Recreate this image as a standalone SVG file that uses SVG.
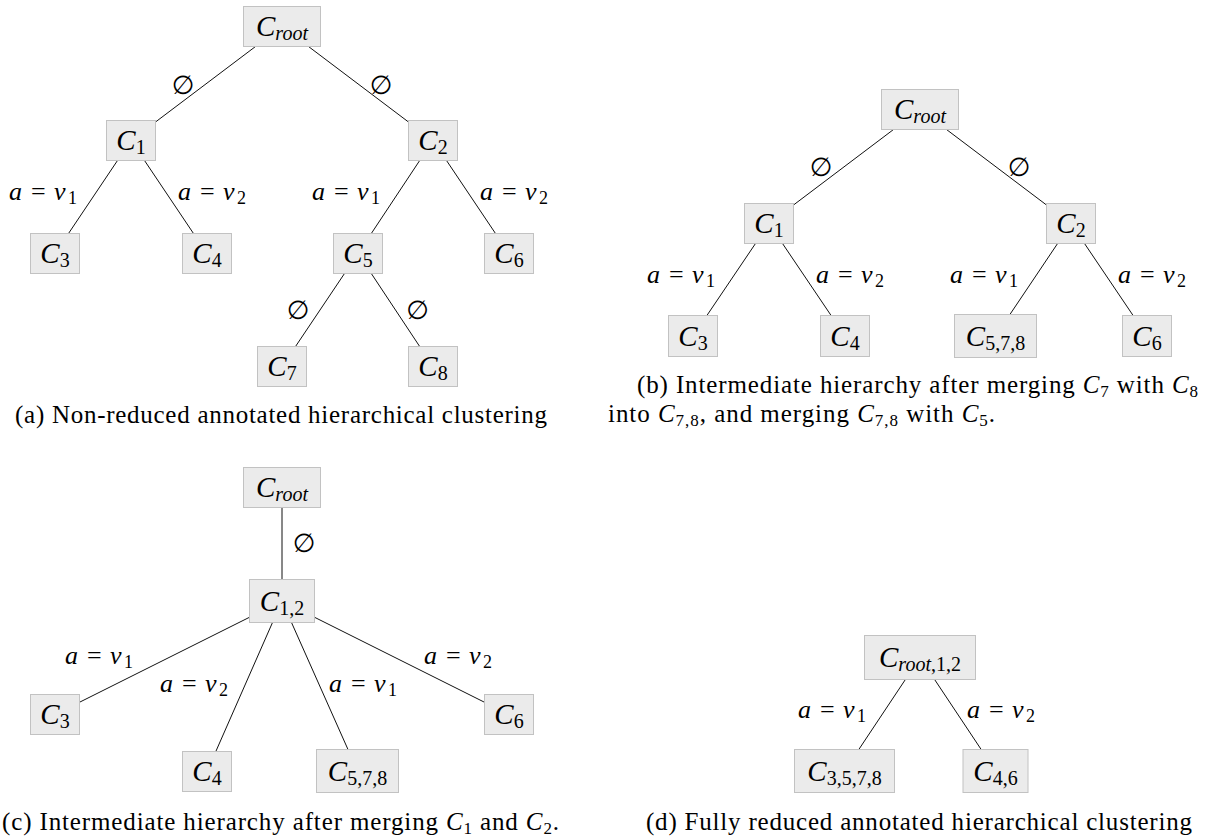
<svg xmlns="http://www.w3.org/2000/svg" width="1215" height="837" viewBox="0 0 1215 837">
<style>
.m{font-family:"Liberation Serif",serif;font-size:26px;fill:#000}
.i{font-style:italic}
.s{font-size:18px}
.cs{font-size:17px}
.e{font-family:"DejaVu Sans",sans-serif;font-size:26px;text-anchor:middle;fill:#000}
.nd rect{fill:#ebebeb;stroke:#c2c2c2;stroke-width:1}
.nd text{text-anchor:middle;font-size:29px}
.nd .s{font-size:20px}
.edges line{stroke:#111;stroke-width:1}
.cap{font-family:"Liberation Serif",serif;font-size:25px;fill:#000}
</style>
<rect width="1215" height="837" fill="#fff"/>

<!-- connectors -->
<g id="connectors" class="edges">
<line x1="255.5" y1="46.5" x2="155.5" y2="122"/>
<line x1="308.5" y1="46.5" x2="408.5" y2="122"/>
<line x1="117.5" y1="160.5" x2="68.5" y2="233.5"/>
<line x1="144.5" y1="160.5" x2="193.5" y2="233.5"/>
<line x1="419.7" y1="160.5" x2="371.3" y2="233.5"/>
<line x1="446.5" y1="160.5" x2="495.5" y2="233.5"/>
<line x1="344.5" y1="273.5" x2="295.5" y2="346.5"/>
<line x1="371.3" y1="273.5" x2="419.7" y2="346.5"/>

<line x1="893.5" y1="129.5" x2="793.5" y2="205"/>
<line x1="946.5" y1="129.5" x2="1046.5" y2="205"/>
<line x1="755.5" y1="243.5" x2="706.9" y2="315.5"/>
<line x1="782.5" y1="243.5" x2="831.1" y2="315.5"/>
<line x1="1057.6" y1="243.5" x2="1009.9" y2="314.5"/>
<line x1="1084.5" y1="243.5" x2="1133.1" y2="315.5"/>

<line x1="282" y1="507.5" x2="282" y2="579.5"/>
<line x1="249.5" y1="617.25" x2="79.5" y2="702.25"/>
<line x1="314.5" y1="617.25" x2="484.5" y2="702.25"/>
<line x1="272.5" y1="622.5" x2="215.8" y2="751.5"/>
<line x1="291.5" y1="622.5" x2="348" y2="749.5"/>

<line x1="905.4" y1="679.5" x2="858.8" y2="749.5"/>
<line x1="934.6" y1="679.5" x2="981.2" y2="749.5"/>
</g>

<!-- edge labels -->
<g id="edge-labels">
<text class="e" x="183" y="94">∅</text>
<text class="e" x="381" y="94">∅</text>
<text class="e" x="298" y="319">∅</text>
<text class="e" x="417.5" y="319">∅</text>
<text class="m" y="200"><tspan class="i" x="9">a</tspan><tspan x="31">=</tspan><tspan class="i" x="54">v</tspan><tspan class="s" x="68" dy="4">1</tspan></text>
<text class="m" y="200"><tspan class="i" x="178">a</tspan><tspan x="200">=</tspan><tspan class="i" x="223">v</tspan><tspan class="s" x="237" dy="4">2</tspan></text>
<text class="m" y="200"><tspan class="i" x="312">a</tspan><tspan x="334">=</tspan><tspan class="i" x="357">v</tspan><tspan class="s" x="371" dy="4">1</tspan></text>
<text class="m" y="200"><tspan class="i" x="480">a</tspan><tspan x="502">=</tspan><tspan class="i" x="525">v</tspan><tspan class="s" x="539" dy="4">2</tspan></text>

<text class="e" x="821" y="176">∅</text>
<text class="e" x="1019" y="176">∅</text>
<text class="m" y="283"><tspan class="i" x="647">a</tspan><tspan x="669">=</tspan><tspan class="i" x="692">v</tspan><tspan class="s" x="706" dy="4">1</tspan></text>
<text class="m" y="283"><tspan class="i" x="816">a</tspan><tspan x="838">=</tspan><tspan class="i" x="861">v</tspan><tspan class="s" x="875" dy="4">2</tspan></text>
<text class="m" y="283"><tspan class="i" x="950">a</tspan><tspan x="972">=</tspan><tspan class="i" x="995">v</tspan><tspan class="s" x="1009" dy="4">1</tspan></text>
<text class="m" y="283"><tspan class="i" x="1118">a</tspan><tspan x="1140">=</tspan><tspan class="i" x="1163">v</tspan><tspan class="s" x="1177" dy="4">2</tspan></text>

<text class="e" x="304" y="552">∅</text>
<text class="m" y="664"><tspan class="i" x="65">a</tspan><tspan x="87">=</tspan><tspan class="i" x="110">v</tspan><tspan class="s" x="124" dy="4">1</tspan></text>
<text class="m" y="692"><tspan class="i" x="160">a</tspan><tspan x="182">=</tspan><tspan class="i" x="205">v</tspan><tspan class="s" x="219" dy="4">2</tspan></text>
<text class="m" y="692"><tspan class="i" x="329">a</tspan><tspan x="351">=</tspan><tspan class="i" x="374">v</tspan><tspan class="s" x="388" dy="4">1</tspan></text>
<text class="m" y="664"><tspan class="i" x="424">a</tspan><tspan x="446">=</tspan><tspan class="i" x="469">v</tspan><tspan class="s" x="483" dy="4">2</tspan></text>

<text class="m" y="718"><tspan class="i" x="798">a</tspan><tspan x="820">=</tspan><tspan class="i" x="843">v</tspan><tspan class="s" x="857" dy="4">1</tspan></text>
<text class="m" y="718"><tspan class="i" x="967">a</tspan><tspan x="989">=</tspan><tspan class="i" x="1012">v</tspan><tspan class="s" x="1026" dy="4">2</tspan></text>
</g>

<!-- panel (a) nodes -->
<g id="a-root" class="nd"><rect x="243.5" y="6.5" width="77" height="40"/><text class="m" x="282" y="36"><tspan class="i">C</tspan><tspan class="s i" dy="4">root</tspan></text></g>
<g id="a-c1" class="nd"><rect x="106.5" y="120.5" width="49" height="40"/><text class="m" x="131" y="150"><tspan class="i">C</tspan><tspan class="s" dy="4">1</tspan></text></g>
<g id="a-c2" class="nd"><rect x="408.5" y="120.5" width="49" height="40"/><text class="m" x="433" y="150"><tspan class="i">C</tspan><tspan class="s" dy="4">2</tspan></text></g>
<g id="a-c3" class="nd"><rect x="30.5" y="233.5" width="49" height="40"/><text class="m" x="55" y="263"><tspan class="i">C</tspan><tspan class="s" dy="4">3</tspan></text></g>
<g id="a-c4" class="nd"><rect x="182.5" y="233.5" width="49" height="40"/><text class="m" x="207" y="263"><tspan class="i">C</tspan><tspan class="s" dy="4">4</tspan></text></g>
<g id="a-c5" class="nd"><rect x="333.5" y="233.5" width="49" height="40"/><text class="m" x="358" y="263"><tspan class="i">C</tspan><tspan class="s" dy="4">5</tspan></text></g>
<g id="a-c6" class="nd"><rect x="484.5" y="233.5" width="49" height="40"/><text class="m" x="509" y="263"><tspan class="i">C</tspan><tspan class="s" dy="4">6</tspan></text></g>
<g id="a-c7" class="nd"><rect x="257.5" y="346.5" width="49" height="40"/><text class="m" x="282" y="376"><tspan class="i">C</tspan><tspan class="s" dy="4">7</tspan></text></g>
<g id="a-c8" class="nd"><rect x="408.5" y="346.5" width="49" height="40"/><text class="m" x="433" y="376"><tspan class="i">C</tspan><tspan class="s" dy="4">8</tspan></text></g>

<!-- panel (b) nodes -->
<g id="b-root" class="nd"><rect x="881.5" y="89.5" width="77" height="40"/><text class="m" x="920" y="119"><tspan class="i">C</tspan><tspan class="s i" dy="4">root</tspan></text></g>
<g id="b-c1" class="nd"><rect x="744.5" y="203.5" width="49" height="40"/><text class="m" x="769" y="233"><tspan class="i">C</tspan><tspan class="s" dy="4">1</tspan></text></g>
<g id="b-c2" class="nd"><rect x="1046.5" y="203.5" width="49" height="40"/><text class="m" x="1071" y="233"><tspan class="i">C</tspan><tspan class="s" dy="4">2</tspan></text></g>
<g id="b-c3" class="nd"><rect x="668.5" y="315.5" width="49" height="41"/><text class="m" x="693" y="345.5"><tspan class="i">C</tspan><tspan class="s" dy="4">3</tspan></text></g>
<g id="b-c4" class="nd"><rect x="820.5" y="315.5" width="49" height="41"/><text class="m" x="845" y="345.5"><tspan class="i">C</tspan><tspan class="s" dy="4">4</tspan></text></g>
<g id="b-c578" class="nd"><rect x="954.5" y="314.5" width="82" height="43"/><text class="m" x="995.5" y="345.5"><tspan class="i">C</tspan><tspan class="s" dy="4">5,7,8</tspan></text></g>
<g id="b-c6" class="nd"><rect x="1122.5" y="315.5" width="49" height="41"/><text class="m" x="1147" y="345.5"><tspan class="i">C</tspan><tspan class="s" dy="4">6</tspan></text></g>

<!-- panel (c) nodes -->
<g id="c-root" class="nd"><rect x="243.5" y="467.5" width="77" height="40"/><text class="m" x="282" y="497"><tspan class="i">C</tspan><tspan class="s i" dy="4">root</tspan></text></g>
<g id="c-c12" class="nd"><rect x="249.5" y="579.5" width="65" height="43"/><text class="m" x="282" y="610.5"><tspan class="i">C</tspan><tspan class="s" dy="4">1,2</tspan></text></g>
<g id="c-c3" class="nd"><rect x="30.5" y="694.5" width="49" height="40"/><text class="m" x="55" y="724"><tspan class="i">C</tspan><tspan class="s" dy="4">3</tspan></text></g>
<g id="c-c4" class="nd"><rect x="182.5" y="751.5" width="49" height="40"/><text class="m" x="207" y="781"><tspan class="i">C</tspan><tspan class="s" dy="4">4</tspan></text></g>
<g id="c-c578" class="nd"><rect x="316.5" y="749.5" width="82" height="43"/><text class="m" x="357.5" y="780.5"><tspan class="i">C</tspan><tspan class="s" dy="4">5,7,8</tspan></text></g>
<g id="c-c6" class="nd"><rect x="484.5" y="694.5" width="49" height="40"/><text class="m" x="509" y="724"><tspan class="i">C</tspan><tspan class="s" dy="4">6</tspan></text></g>

<!-- panel (d) nodes -->
<g id="d-root12" class="nd"><rect x="864.5" y="635.5" width="111" height="44"/><text class="m" x="920" y="667"><tspan class="i">C</tspan><tspan class="s i" dy="4">root</tspan><tspan class="s">,1,2</tspan></text></g>
<g id="d-c3578" class="nd"><rect x="794.5" y="749.5" width="100" height="43"/><text class="m" x="844.5" y="780.5"><tspan class="i">C</tspan><tspan class="s" dy="4">3,5,7,8</tspan></text></g>
<g id="d-c46" class="nd"><rect x="963" y="749.5" width="65" height="43"/><text class="m" x="995.5" y="780.5"><tspan class="i">C</tspan><tspan class="s" dy="4">4,6</tspan></text></g>

<!-- captions -->
<g id="captions">
<text class="cap" x="15" y="423" textLength="532" lengthAdjust="spacing">(a) Non-reduced annotated hierarchical clustering</text>
<text class="cap" x="637" y="393" textLength="561" lengthAdjust="spacing">(b) Intermediate hierarchy after merging <tspan class="i">C</tspan><tspan class="cs" dy="4">7</tspan><tspan dy="-4"> with </tspan><tspan class="i">C</tspan><tspan class="cs" dy="4">8</tspan></text>
<text class="cap" x="608" y="422" textLength="387" lengthAdjust="spacing">into <tspan class="i">C</tspan><tspan class="cs" dy="4">7,8</tspan><tspan dy="-4">, and merging </tspan><tspan class="i">C</tspan><tspan class="cs" dy="4">7,8</tspan><tspan dy="-4"> with </tspan><tspan class="i">C</tspan><tspan class="cs" dy="4">5</tspan><tspan dy="-4">.</tspan></text>
<text class="cap" x="2" y="830" textLength="557" lengthAdjust="spacing">(c) Intermediate hierarchy after merging <tspan class="i">C</tspan><tspan class="cs" dy="4">1</tspan><tspan dy="-4"> and </tspan><tspan class="i">C</tspan><tspan class="cs" dy="4">2</tspan><tspan dy="-4">.</tspan></text>
<text class="cap" x="646" y="830" textLength="546" lengthAdjust="spacing">(d) Fully reduced annotated hierarchical clustering</text>
</g>
</svg>
